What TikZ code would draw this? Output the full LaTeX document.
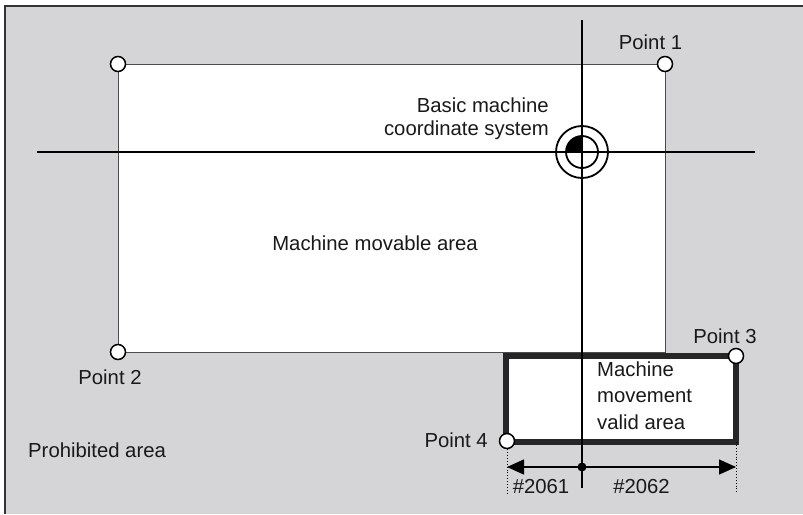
\documentclass[tikz,border=0pt]{standalone}
\usepackage{fontspec}
\setmainfont{Liberation Sans}
\usepackage{xcolor}
\usetikzlibrary{arrows.meta, positioning}
\definecolor{prohibgray}{RGB}{213,213,215}
\tikzset{
  ptmark/.style={circle,draw,fill=white,line width=1.5pt,inner sep=0pt,minimum size=15pt},
  lbl/.style={font=\fontsize{20.3}{26.5}\selectfont,text=black!90,inner sep=0pt},
  dimtip/.tip={Triangle[length=17pt,width=15pt]}
}

\begin{document}
\begin{tikzpicture}[x=1pt,y=-1pt]
            \useasboundingbox (0,0) rectangle (803,514);
            % prohibited area
            \fill[prohibgray] (5,6) rectangle (803,514);
            \draw[line width=1.5pt,black!80] (5,514) -- (5,6) -- (803,6);
            % machine movable area
            \draw[fill=white,draw=black!70,line width=0.8pt] (118,64) rectangle (665,352);
            % machine movement valid area
            \coordinate (va) at (506,356);
            \coordinate (vb) at (736,442);
            \draw[fill=white,draw=black!85,line width=5.5pt] (va) rectangle (vb);
            % axes
            \coordinate (xl) at (37,152);
            \coordinate (xr) at (755,152);
            \coordinate (yt) at (582,20);
            \coordinate (yb) at (582,488);
            \draw[line width=1.4pt] (xl) -- (xr);
            \draw[line width=1.4pt] (yt) -- (yb);
            % basic machine coordinate system
            \node[circle,draw,line width=1.8pt,minimum size=52pt,inner sep=0pt](origin) at (582,152) {};
            \node[circle,draw,line width=1.8pt,minimum size=32pt,inner sep=0pt](originin) at (origin) {};
            \fill (origin.center) -- ++(-16,0) arc[start angle=180,end angle=270,radius=16] -- cycle;
            % points
            \node[ptmark](p0) at (118,64) {};
            \node[ptmark](p1) at (665,64) {};
            \node[ptmark](p2) at (118,352) {};
            \node[ptmark](p3) at (736,356) {};
            \node[ptmark](p4) at (507,441) {};
            % dimensions
            \coordinate (dl) at (507,467);
            \coordinate (dr) at (736,467);
            \coordinate (dm) at (582,467);
            \coordinate (el) at (507,494);
            \coordinate (er) at (736,494);
            \draw[dotted,line width=0.9pt] (p4.south) -- (el);
            \draw[dotted,line width=0.9pt] (vb) -- (er);
            \draw[line width=1.5pt,dimtip-dimtip] (dl) -- (dr);
            \fill (dm) circle[radius=4.5];
            % labels
            \node[lbl,anchor=base](l1) at (650.5,49) {Point 1};
            \node[lbl,anchor=base](l2) at (110,384) {Point 2};
            \node[lbl,anchor=base](l3) at (725,343) {Point 3};
            \node[lbl,anchor=base east](l4) at (488,447) {Point 4};
            \node[lbl,anchor=base east,align=right,font=\fontsize{20.3}{22.5}\selectfont](lorigin) at (549,135) {Basic machine\\coordinate system};
            \node[lbl,anchor=base](lmov) at (375,250) {Machine movable area};
            \node[lbl,anchor=base west,align=left](lvalid) at (597,429) {Machine\\movement\\valid area};
            \node[lbl,anchor=base west](lproh) at (28,457) {Prohibited area};
            \node[lbl,anchor=base](ld1) at (541,493) {\#2061};
            \node[lbl,anchor=base](ld2) at (641.5,493) {\#2062};
        \end{tikzpicture}
\end{document}
